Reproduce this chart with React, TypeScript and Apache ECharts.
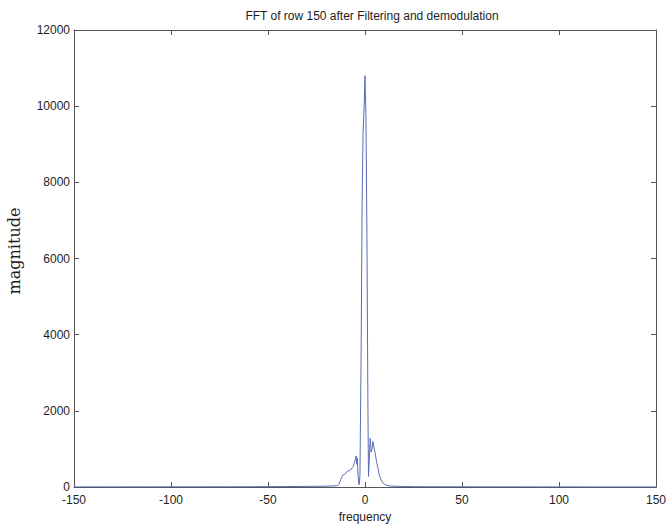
import React, { useEffect, useRef } from "react";
import * as echarts from "echarts";

const TITLE = "FFT of row 150 after Filtering and demodulation";
const X_LABEL = "frequency";
const Y_LABEL = "magnitude";

const X_TICKS = [-150, -100, -50, 0, 50, 100, 150];
const Y_TICKS = [0, 2000, 4000, 6000, 8000, 10000, 12000];

const freq = [
  -150, -140, -130, -120, -110, -100, -90, -80, -70, -60, -50, -40, -30, -25, -20, -17, -15,
  -14, -13.5, -12.5, -11.5, -10.5, -9.5, -9, -8, -7, -6.5, -6, -5.5, -5, -4.6, -4.3, -4, -3.7,
  -3.3, -3, -2.6, -2, -1.5, -1, -0.5, 0, 0.5, 1, 1.5, 1.8, 2.2, 2.7, 3.2, 3.6, 4.1, 4.6, 5.2,
  6, 6.5, 7.3, 8.2, 9, 10, 11, 12.5, 14, 17, 20, 25, 30, 40, 50, 60, 70, 80, 90, 100, 110, 120,
  130, 140, 150,
];
const mag = [
  5, 6, 5, 7, 6, 8, 7, 9, 8, 10, 12, 14, 18, 20, 25, 30, 35,
  40, 70, 200, 310, 330, 400, 420, 430, 470, 520, 540, 640, 720, 820, 600, 760, 450,
  120, 60, 300, 3500, 7400, 9300, 9900, 10800, 9700, 6600, 2200, 280, 700, 1280, 920, 1000, 1200, 1050, 900,
  650, 550, 330, 200, 120, 80, 50, 30, 25, 20, 15, 12, 10, 9, 8, 7, 6, 6, 5, 5, 5, 4,
  4, 4, 4,
];

const AXIS_COLOR = "#555555";
const TEXT_COLOR = "#1e1e1e";
const LINE_COLOR = "#5a6db5";

export default function App() {
  const ref = useRef<HTMLDivElement>(null);

  useEffect(() => {
    document.body.style.margin = "0";
    const chart = echarts.init(ref.current!, null, { renderer: "svg" });
    const data = freq.map((f, i) => [f, mag[i]]);
    const xMin = X_TICKS[0];
    const xMax = X_TICKS[X_TICKS.length - 1];
    const xInt = X_TICKS[1] - X_TICKS[0];
    const yMin = Y_TICKS[0];
    const yMax = Y_TICKS[Y_TICKS.length - 1];
    const yInt = Y_TICKS[1] - Y_TICKS[0];
    const font = "'Liberation Sans', Arial, sans-serif";

    const baseX = {
      type: "value" as const,
      min: xMin,
      max: xMax,
      interval: xInt,
      splitLine: { show: false },
      axisLine: { show: true, onZero: false, lineStyle: { color: AXIS_COLOR, width: 1 } },
      axisTick: { show: true, inside: true, length: 5, lineStyle: { color: AXIS_COLOR } },
    };
    const baseY = {
      type: "value" as const,
      min: yMin,
      max: yMax,
      interval: yInt,
      splitLine: { show: false },
      axisLine: { show: true, onZero: false, lineStyle: { color: AXIS_COLOR, width: 1 } },
      axisTick: { show: true, inside: true, length: 5, lineStyle: { color: AXIS_COLOR } },
    };

    chart.setOption({
      animation: false,
      backgroundColor: "#ffffff",
      title: {
        text: TITLE,
        left: 367,
        textAlign: "center",
        top: 5,
        textStyle: { fontFamily: font, fontSize: 12, fontWeight: "normal", color: TEXT_COLOR },
      },
      grid: { left: 74, right: 10, top: 30, bottom: 37 },
      xAxis: [
        {
          ...baseX,
          position: "bottom",
          name: X_LABEL,
          nameLocation: "middle",
          nameGap: 22,
          nameTextStyle: { fontFamily: font, fontSize: 12, color: TEXT_COLOR },
          axisLabel: {
            fontFamily: font,
            fontSize: 12,
            lineHeight: 12,
            color: TEXT_COLOR,
            margin: 7,
            formatter: (v: number) => String(v),
          },
        },
        { ...baseX, position: "top", axisLabel: { show: false } },
      ],
      yAxis: [
        {
          ...baseY,
          position: "left",
          axisLabel: {
            fontFamily: font,
            fontSize: 12,
            lineHeight: 11,
            color: TEXT_COLOR,
            margin: 4,
            formatter: (v: number) => String(v),
          },
        },
        { ...baseY, position: "right", axisLabel: { show: false } },
      ],
      graphic: [
        {
          type: "text",
          x: 14,
          y: 251,
          rotation: Math.PI / 2,
          style: {
            text: Y_LABEL,
            font: "16px 'DejaVu Serif', serif",
            fill: TEXT_COLOR,
            textAlign: "center",
            textVerticalAlign: "middle",
          },
        },
      ],
      series: [
        {
          type: "line",
          data,
          xAxisIndex: 0,
          yAxisIndex: 0,
          showSymbol: false,
          symbol: "none",
          lineStyle: { color: LINE_COLOR, width: 1 },
        },
      ],
    });
    return () => chart.dispose();
  }, []);

  return (
    <div
      ref={ref}
      style={{ position: "fixed", left: 0, top: 0, width: 669, height: 528 }}
    />
  );
}
